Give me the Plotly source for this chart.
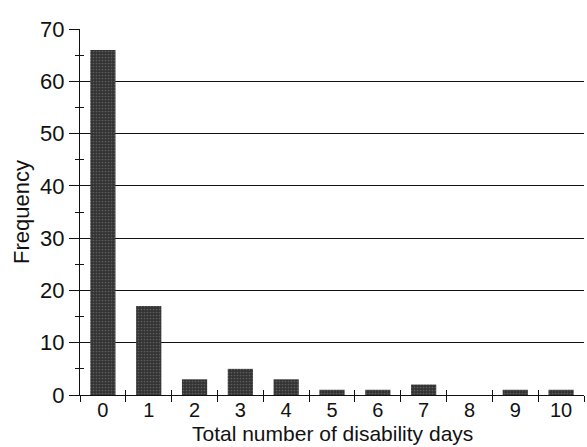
import plotly.graph_objects as go

days = [0, 1, 2, 3, 4, 5, 6, 7, 8, 9, 10]
frequency = [66, 17, 3, 5, 3, 1, 1, 2, 0, 1, 1]
y_ticks = [0, 10, 20, 30, 40, 50, 60, 70]

font = "Liberation Sans, Arial, sans-serif"

fig = go.Figure()
fig.add_trace(go.Bar(
    x=days, y=frequency, width=0.55,
    marker=dict(color="#333333", line=dict(width=0),
                pattern=dict(shape=".", fgcolor="#8a8a8a", size=3, solidity=0.25, fillmode="overlay")),
    showlegend=False, hoverinfo="skip",
))
# invisible trace to carry the overlay axes (inside ticks)
fig.add_trace(go.Scatter(x=[days[0]], y=[frequency[-1]], xaxis="x2", yaxis="y2",
                         mode="markers", marker=dict(opacity=0), showlegend=False, hoverinfo="skip"))

fig.update_layout(
    width=587, height=447,
    margin=dict(l=80, r=3, t=29, b=52),
    paper_bgcolor="white", plot_bgcolor="white",
    font=dict(family=font, color="#111111"),
    bargap=0.45,
    xaxis=dict(
        range=[-0.5, 10.5], tickmode="array", tickvals=days, ticktext=[str(d) for d in days],
        ticks="", showgrid=False, zeroline=False, automargin=False,
        showline=True, linecolor="#111111", linewidth=1,
        tickfont=dict(size=20), ticklabelstandoff=-3,
        minor=dict(tickmode="linear", tick0=0.5, dtick=1, ticks="outside", ticklen=6,
                   tickcolor="#111111", showgrid=False),
    ),
    yaxis=dict(
        range=[0, 70], tickmode="array", tickvals=y_ticks,
        ticks="outside", ticklen=10, tickcolor="#111111", automargin=False,
        showgrid=True, gridcolor="#111111", gridwidth=1, zeroline=False,
        showline=True, linecolor="#111111", linewidth=1,
        tickfont=dict(size=22),
        minor=dict(tickmode="linear", tick0=5, dtick=10, ticks="outside", ticklen=4,
                   tickcolor="#111111", showgrid=False),
        title=dict(text="Frequency", font=dict(size=22), standoff=4),
    ),
    xaxis2=dict(overlaying="x", range=[-0.5, 10.5], side="bottom", anchor="y2",
                tickmode="linear", tick0=0.5, dtick=1, ticks="inside", ticklen=5,
                tickcolor="#111111", showticklabels=False, showgrid=False, zeroline=False),
    yaxis2=dict(overlaying="y", range=[0, 70], side="left", anchor="x2",
                tickmode="linear", tick0=5, dtick=5, ticks="inside", ticklen=4,
                tickcolor="#111111", showticklabels=False, showgrid=False, zeroline=False),
    annotations=[dict(text="Total number of disability days", xref="paper", yref="paper",
                      x=0.5, y=0, yshift=-51, xanchor="center", yanchor="bottom",
                      borderpad=0, showarrow=False, font=dict(size=21))],
)

fig.write_html("out.html", config={"displayModeBar": False},
               post_script="document.body.style.margin='0';document.body.style.padding='0';")
